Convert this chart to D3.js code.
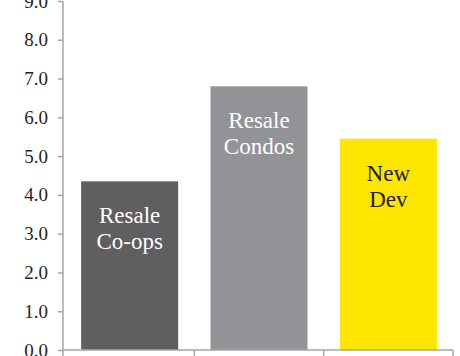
<!DOCTYPE html>
<html><head><meta charset="utf-8">
<script src="https://cdn.jsdelivr.net/npm/d3@7"></script>
<style>body{margin:0;background:#fff}svg{display:block}</style>
</head><body>
<svg id="c" width="460" height="356"></svg>
<script>
const categories = ["Resale Co-ops", "Resale Condos", "New Dev"];
const labelLines = [["Resale","Co-ops"],["Resale","Condos"],["New","Dev"]];
const values = [4.35, 6.8, 5.45];
const colors = ["#5f5e60", "#929396", "#ffe600"];
const labelColors = ["#ffffff", "#ffffff", "#231f20"];
const yTicks = [0,1,2,3,4,5,6,7,8,9];

const svg = d3.select("#c");
const x = d3.scaleBand().domain(categories).range([65, 453]).paddingInner(0.25).paddingOuter(0.125);
const y = d3.scaleLinear().domain([0, 9]).range([350, 1]);
const axisColor = "#a6a6a6";
const font = "'Liberation Serif', serif";

svg.selectAll("rect.bar").data(values).join("rect")
  .attr("class","bar")
  .attr("x",(d,i)=>x(categories[i]))
  .attr("width",x.bandwidth())
  .attr("y",d=>y(d))
  .attr("height",d=>y(0)-y(d))
  .attr("fill",(d,i)=>colors[i]);

const lab = svg.selectAll("text.lab").data(values).join("text")
  .attr("class","lab")
  .attr("text-anchor","middle")
  .style("font-family",font)
  .style("font-size","23px")
  .attr("fill",(d,i)=>labelColors[i]);
lab.each(function(d,i){
  const t=d3.select(this);
  labelLines[i].forEach((s,j)=>{
    t.append("tspan").attr("x",x(categories[i])+x.bandwidth()/2)
     .attr("y",y(d)+42+j*26).text(s);
  });
});

// y axis
const ya = svg.append("g").attr("transform","translate(63,0)")
  .call(d3.axisLeft(y).tickValues(yTicks).tickFormat(d3.format(".1f")).tickSize(5).tickPadding(10));
ya.select(".domain").remove();
ya.selectAll(".tick line").attr("stroke",axisColor).attr("stroke-width",1.5);
ya.selectAll("text").style("font-family",font).style("font-size","19px").attr("fill","#231f20");
svg.append("line").attr("x1",63).attr("x2",63).attr("y1",1).attr("y2",356)
  .attr("stroke",axisColor).attr("stroke-width",1.5);

// x axis
svg.append("line").attr("x1",63).attr("x2",453).attr("y1",350).attr("y2",350)
  .attr("stroke",axisColor).attr("stroke-width",1.5);
const bounds = categories.map(c=>x(c)+x.bandwidth()+x.step()*x.paddingInner()/2);
svg.selectAll("line.xt").data(bounds).join("line").attr("class","xt")
  .attr("x1",d=>d).attr("x2",d=>d).attr("y1",350).attr("y2",356)
  .attr("stroke",axisColor).attr("stroke-width",1.5);
</script>
</body></html>
